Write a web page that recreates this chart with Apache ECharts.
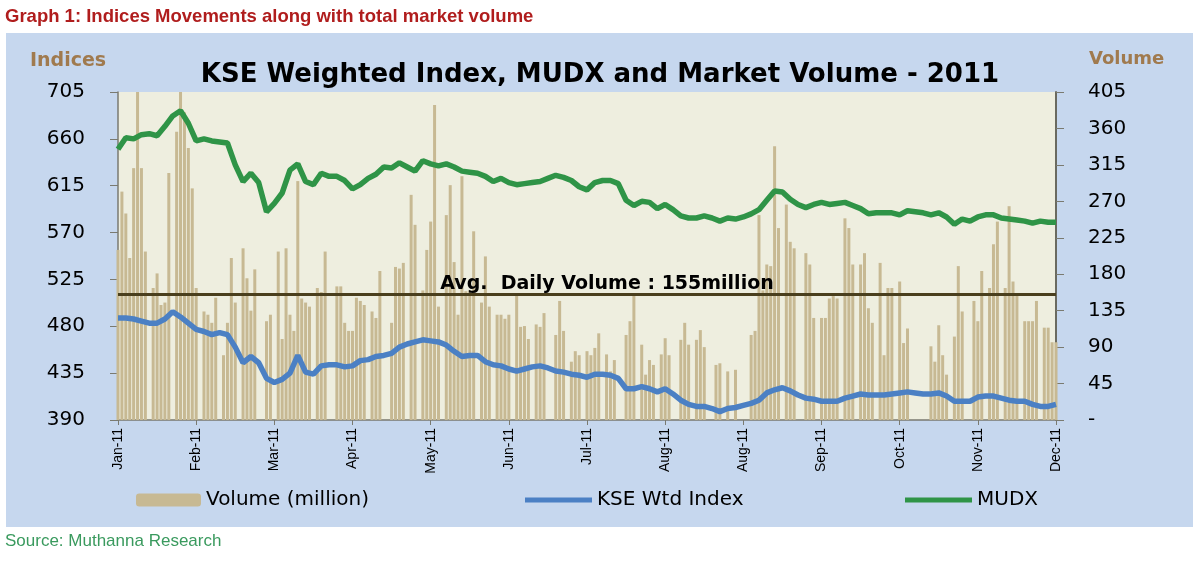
<!DOCTYPE html>
<html><head><meta charset="utf-8">
<script src="https://cdn.jsdelivr.net/npm/echarts@6/dist/echarts.min.js"></script>
<style>html,body{margin:0;padding:0;background:#fff}#c{width:1200px;height:562px}</style>
</head><body><div id="c"></div>
<script>
const monthLabels = ['Jan-11','Feb-11','Mar-11','Apr-11','May-11','Jun-11','Jul-11','Aug-11','Aug-11','Sep-11','Oct-11','Nov-11','Dec-11'];

// daily market volume (million), 20 slots per label interval
const volume = [
210,282,255,200,311,405,311,208,0,163,
181,142,145,305,0,356,405,380,336,286,
163,0,134,130,120,151,0,80,120,200,
145,0,212,175,135,186,0,0,122,130,
0,208,100,212,130,110,295,150,145,140,
0,163,158,208,0,0,165,165,120,110,110,
151,147,142,0,134,126,184,0,0,120,
189,187,194,0,278,241,0,160,210,245,
389,140,0,253,290,195,130,301,159,160,
233,0,145,202,140,0,130,130,125,130,
0,155,115,116,100,0,118,115,132,0,
0,105,147,110,0,72,85,80,0,85,80,
89,107,0,81,60,74,0,0,105,122,
155,0,93,56,74,68,0,81,101,80,
0,0,99,120,93,0,99,111,90,0,
0,68,70,0,60,0,62,0,0,0,
105,110,253,160,192,190,338,237,0,266,
220,212,0,0,206,192,126,0,126,126,150,
153,150,0,249,237,192,0,192,206,138,
120,0,194,80,163,163,0,171,95,113,
0,0,0,0,0,91,72,117,80,56,
0,103,190,134,0,0,147,122,184,0,
163,217,245,0,163,264,171,155,0,122,
122,122,147,0,114,114,96,96
];

// index levels, 10 samples per label interval
const kse = [
488,488,487,485,483,483,487,494,489,483,477,475,472,474,472,460,445,451,445,430,426,429,435,452,436,434,442,443,443,441,442,
447,448,451,452,454,460,463,465,467,466,465,462,456,451,452,452,446,443,442,439,437,439,441,442,440,437,436,434,433,431,
434,434,433,430,420,420,422,420,417,420,415,409,405,403,403,401,398,401,402,404,406,409,416,419,421,418,414,411,410,408,408,
408,411,413,415,414,414,414,415,416,417,416,415,415,416,413,408,408,408,412,413,413,411,409,408,408,405,403,403,405
];
const mudx = [
650,661,660,664,665,663,672,682,687,675,658,660,658,657,656,635,619,627,618,590,598,608,630,636,619,616,627,624,624,620,612,
616,622,626,633,632,637,633,629,639,636,634,636,633,629,628,627,624,619,622,618,616,617,618,619,622,625,623,620,614,611,
618,620,620,617,601,596,600,599,593,597,592,586,584,584,586,584,581,584,583,585,588,592,601,610,609,602,597,594,597,599,597,
598,599,596,593,588,589,589,589,587,591,590,589,587,589,585,578,583,581,585,587,587,584,583,582,581,579,581,580,580
];
const avgVolume = 155;

const chart = echarts.init(document.getElementById('c'));
const legendText = {fontSize:20, fontFamily:'DejaVu Sans', color:'#000'};
chart.setOption({
  animation:false,
  graphic:[{type:'rect', shape:{x:6,y:33,width:1187,height:494}, style:{fill:'#c6d7ee'}, z:-100, silent:true}],
  title:[
    {text:'Graph 1: Indices Movements along with total market volume', left:5, top:7, padding:0,
     textStyle:{color:'#b01d1d', fontSize:18.5, fontWeight:'bold', fontFamily:'Liberation Sans Narrow, Liberation Sans, sans-serif'}},
    {text:'KSE Weighted Index, MUDX and Market Volume - 2011', left:'center', top:62, padding:0,
     textStyle:{fontSize:26, fontWeight:'bold', fontFamily:'DejaVu Sans', color:'#000'}},
    {text:'Indices', left:30, top:52, padding:0, textStyle:{fontSize:19, fontWeight:'bold', color:'#a07a4e', fontFamily:'DejaVu Sans'}},
    {text:'Volume', left:1089, top:50, padding:0, textStyle:{fontSize:18, fontWeight:'bold', color:'#a07a4e', fontFamily:'DejaVu Sans'}},
    {text:'Source: Muthanna Research', left:5, top:533, padding:0, textStyle:{color:'#3a9a5e', fontSize:17, fontWeight:'normal', fontFamily:'Liberation Sans'}}
  ],
  legend:[
    {data:['Volume (million)'], left:136, top:490, padding:0, itemWidth:65, itemHeight:13, textStyle:legendText},
    {data:[{name:'KSE Wtd Index', icon:'rect'}], left:525, top:490, padding:0, itemWidth:67, itemHeight:5, textStyle:legendText},
    {data:[{name:'MUDX', icon:'rect'}], left:905, top:490, padding:0, itemWidth:67, itemHeight:5, textStyle:legendText}
  ],
  grid:{left:118, right:144, top:92, bottom:142, show:true, backgroundColor:'#eeeedf', borderWidth:0},
  xAxis:{type:'value', min:0, max:240, interval:20,
    axisLine:{show:true, lineStyle:{color:'#7a7a70', width:1.5}},
    axisTick:{show:true, length:5, lineStyle:{color:'#7a7a70'}},
    splitLine:{show:false},
    axisLabel:{rotate:90, formatter:v=>monthLabels[Math.round(v/20)], fontSize:14, fontFamily:'Liberation Sans Narrow, Liberation Sans', color:'#000', margin:8}},
  yAxis:[
    {type:'value', min:390, max:705, interval:45, position:'left',
     axisLine:{show:true, lineStyle:{color:'#7a7a70', width:1.5}},
     axisTick:{show:true, length:8, lineStyle:{color:'#7a7a70'}},
     splitLine:{show:false},
     axisLabel:{fontSize:20, fontFamily:'DejaVu Sans', color:'#000', margin:33}},
    {type:'value', min:0, max:405, interval:45, position:'right',
     axisLine:{show:true, lineStyle:{color:'#6a6a60', width:2}},
     axisTick:{show:true, length:8, lineStyle:{color:'#7a7a70'}},
     splitLine:{show:false},
     axisLabel:{fontSize:20, fontFamily:'DejaVu Sans', color:'#000', margin:32, formatter:v=>v===0?'-':v}}
  ],
  series:[
    {name:'Volume (million)', type:'bar', yAxisIndex:1, barWidth:3, z:1,
     data:volume.map((v,i)=>[i,v]), itemStyle:{color:'#c7b993'},
     markLine:{silent:true, symbol:['none','none'], data:[{yAxis:avgVolume}],
       lineStyle:{color:'#4a3f1d', width:3, type:'solid'},
       label:{show:true, position:'insideMiddleTop', formatter:'Avg.  Daily Volume : '+avgVolume+'million',
         color:'#000', fontWeight:'bold', fontSize:19, fontFamily:'DejaVu Sans', padding:[0,0,0,40], distance:1}}},
    {name:'KSE Wtd Index', type:'line', yAxisIndex:0, data:kse.map((v,i)=>[i*2,v]), showSymbol:false, symbol:'none', z:3,
     lineStyle:{color:'#4b80c4', width:5.5}, itemStyle:{color:'#4b80c4'}},
    {name:'MUDX', type:'line', yAxisIndex:0, data:mudx.map((v,i)=>[i*2,v]), showSymbol:false, symbol:'none', z:3,
     lineStyle:{color:'#2f9447', width:5.5}, itemStyle:{color:'#2f9447'}}
  ]
});
</script></body></html>
